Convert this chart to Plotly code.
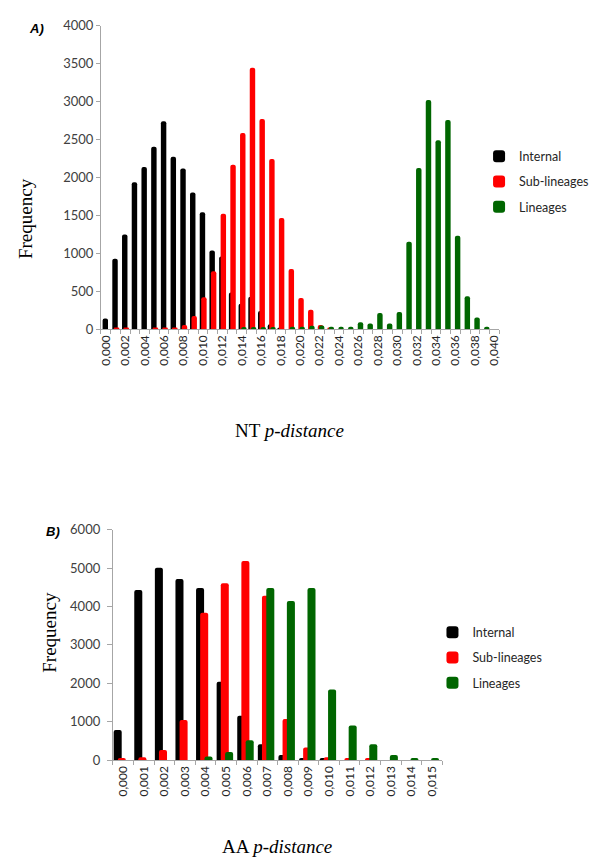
import plotly.graph_objects as go

# ---------------- Data ----------------
nt_categories = ["0,000", "0,001", "0,002", "0,003", "0,004", "0,005", "0,006", "0,007",
                 "0,008", "0,009", "0,010", "0,011", "0,012", "0,013", "0,014", "0,015",
                 "0,016", "0,017", "0,018", "0,019", "0,020", "0,021", "0,022", "0,023",
                 "0,024", "0,025", "0,026", "0,027", "0,028", "0,029", "0,030", "0,031",
                 "0,032", "0,033", "0,034", "0,035", "0,036", "0,037", "0,038", "0,039",
                 "0,040"]
nt_tick_labels = ["0,000", "", "0,002", "", "0,004", "", "0,006", "", "0,008", "",
                  "0,010", "", "0,012", "", "0,014", "", "0,016", "", "0,018", "",
                  "0,020", "", "0,022", "", "0,024", "", "0,026", "", "0,028", "",
                  "0,030", "", "0,032", "", "0,034", "", "0,036", "", "0,038", "",
                  "0,040"]
nt_internal = [142, 931, 1250, 1940, 2138, 2405, 2741, 2276, 2121, 1802,
               1543, 1039, 961, 487, 336, 431, 241, 69, 15, 0,
               0, 0, 0, 0, 0, 0, 0, 0, 0, 0,
               0, 0, 0, 0, 0, 0, 0, 0, 0, 0, 0]
nt_sublineages = [0, 26, 26, 0, 0, 26, 26, 26, 56, 177,
                  422, 767, 1522, 2168, 2586, 3448, 2772, 2246, 1466, 797,
                  414, 259, 56, 25, 0, 0, 0, 0, 0, 0,
                  0, 0, 0, 0, 0, 0, 0, 0, 0, 0, 0]
nt_lineages = [0, 0, 0, 0, 0, 0, 0, 0, 0, 0,
               0, 0, 0, 0, 30, 30, 30, 30, 0, 34,
               34, 47, 52, 34, 34, 34, 95, 78, 216, 78,
               228, 1155, 2125, 3022, 2491, 2759, 1233, 435, 155, 34, 0]

aa_categories = ["0,000", "0,001", "0,002", "0,003", "0,004", "0,005", "0,006", "0,007",
                 "0,008", "0,009", "0,010", "0,011", "0,012", "0,013", "0,014", "0,015"]
aa_internal = [783, 4426, 5004, 4715, 4477, 2043, 1157, 417, 136, 60, 60, 0, 0, 0, 0, 0]
aa_sublineages = [60, 77, 264, 1047, 3838, 4604, 5183, 4281, 1072, 332, 77, 60, 60, 0, 0, 0]
aa_lineages = [0, 0, 0, 0, 94, 213, 519, 4477, 4145, 4477, 1838, 902, 417, 136, 60, 60]

series_names = ["Internal", "Sub-lineages", "Lineages"]
series_colors = ["#000000", "#FF0000", "#006600"]

# ---------------- Figure ----------------
W, H = 600, 861
fig = go.Figure()

nt_offsets = [-0.33, -0.18, -0.06]
nt_width = 0.56
for name, vals, col, off in zip(series_names, [nt_internal, nt_sublineages, nt_lineages],
                                series_colors, nt_offsets):
    fig.add_trace(go.Bar(x=nt_categories, y=vals, name=name, marker_color=col,
                         marker_line_width=0, offset=off, width=nt_width,
                         xaxis="x", yaxis="y", legend="legend", legendgroup="a" + name))

aa_offsets = [-0.46, -0.26, -0.05]
aa_width = 0.39
for name, vals, col, off in zip(series_names, [aa_internal, aa_sublineages, aa_lineages],
                                series_colors, aa_offsets):
    fig.add_trace(go.Bar(x=aa_categories, y=vals, name=name, marker_color=col,
                         marker_line_width=0, offset=off, width=aa_width,
                         xaxis="x2", yaxis="y2", legend="legend2", legendgroup="b" + name))


def px_x(p):
    return p / W


def px_y(p):
    return 1 - p / H


axis_grey = "#A6A6A6"
tick_font = dict(family="Lato", size=12, color="#262626")
ytick_font = dict(family="Lato", size=13, color="#404040")

common_x = dict(type="category", showline=True, linecolor=axis_grey, linewidth=1,
                ticks="outside", ticklen=4, tickcolor=axis_grey, tickson="boundaries",
                showgrid=False, zeroline=False, tickangle=-90, tickfont=tick_font,
                fixedrange=True)
common_y = dict(showline=True, linecolor=axis_grey, linewidth=1, ticks="outside",
                ticklen=4, tickcolor=axis_grey, showgrid=False, zeroline=False,
                tickfont=ytick_font, fixedrange=True)

legend_common = dict(font=dict(family="Lato", size=12.5, color="#262626"),
                     bgcolor="rgba(0,0,0,0)", borderwidth=0, xanchor="left",
                     yanchor="top", tracegroupgap=6, itemclick=False,
                     itemdoubleclick=False)

fig.update_layout(
    width=W, height=H,
    margin=dict(l=0, r=0, t=0, b=0),
    paper_bgcolor="white", plot_bgcolor="white",
    barmode="overlay",
    barcornerradius=2,
    xaxis=dict(common_x, domain=[px_x(90.7), px_x(492.3)], anchor="y",
               tickvals=nt_categories, ticktext=nt_tick_labels,
               range=[-0.5, len(nt_categories) - 0.5]),
    yaxis=dict(common_y, domain=[px_y(319.3), px_y(10)], anchor="x",
               range=[0, 4000], dtick=500),
    xaxis2=dict(common_x, domain=[px_x(102.7), px_x(435)], anchor="y2",
                tickvals=aa_categories, ticktext=aa_categories,
                range=[-0.5, len(aa_categories) - 0.5]),
    yaxis2=dict(common_y, domain=[px_y(758.3), px_y(523.3)], anchor="x2",
                range=[0, 6000], dtick=1000, ticklen=5, ticklabelstandoff=4),
    legend=dict(legend_common, x=px_x(472), y=px_y(128)),
    legend2=dict(legend_common, x=px_x(425), y=px_y(613)),
    showlegend=True,
)

serif = "Liberation Serif, Times New Roman, serif"
annotations = [
    dict(text="Frequency", x=px_x(14), y=px_y(206), textangle=-90,
         font=dict(family=serif, size=19, color="#000000")),
    dict(text="NT <i>p-distance</i>", x=px_x(281), y=px_y(422),
         font=dict(family=serif, size=19, color="#000000")),
    dict(text="Frequency", x=px_x(38.7), y=px_y(628), textangle=-90,
         font=dict(family=serif, size=19, color="#000000")),
    dict(text="AA <i>p-distance</i>", x=px_x(268), y=px_y(846),
         font=dict(family=serif, size=19, color="#000000")),
    dict(text="<b><i>A)</i></b>", x=px_x(26), y=px_y(12.5),
         font=dict(family="Liberation Sans", size=13, color="#000000")),
    dict(text="<b><i>B)</i></b>", x=px_x(42.5), y=px_y(525),
         font=dict(family="Liberation Sans", size=13, color="#000000")),
]
for a in annotations:
    a.update(xref="paper", yref="paper", showarrow=False, xanchor="center",
             yanchor="middle")
fig.update_layout(annotations=annotations)

fig.write_html("out.html", config={"displayModeBar": False})
